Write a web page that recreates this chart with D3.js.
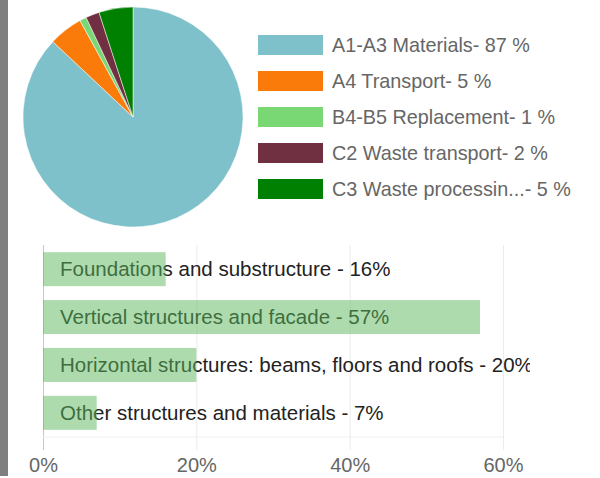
<!DOCTYPE html>
<html>
<head>
<meta charset="utf-8">
<script src="https://cdn.jsdelivr.net/npm/d3@7"></script>
<style>
  body { margin: 0; background: #fff; font-family: "Liberation Sans", Arial, sans-serif; }
  #strip { position: absolute; left: 0; top: 0; width: 8px; height: 476px; background: #7f7f7f; }
  svg { position: absolute; left: 0; top: 0; }
</style>
</head>
<body>
<div id="strip"></div>
<script>
const width = 600;
const height = 478;

// pie data
const pieLabels = ["A1-A3 Materials", "A4 Transport", "B4-B5 Replacement", "C2 Waste transport", "C3 Waste processin..."];
const pieValues = [87, 5, 1, 2, 5];
const pieColors = ["#7ec1ca", "#fb7b0a", "#79d873", "#712f42", "#008000"];

// bar data
const barLabels = ["Foundations and substructure", "Vertical structures and facade", "Horizontal structures: beams, floors and roofs", "Other structures and materials"];
const barValues = [16, 57, 20, 7];
const xTicks = [0, 20, 40, 60];

const svg = d3.select("body").append("svg")
  .attr("width", width)
  .attr("height", height);

// ---- pie ----
const pie = d3.pie().sort(null).value(d => d)(pieValues);
const arc = d3.arc().innerRadius(0).outerRadius(110);

svg.append("g")
  .attr("transform", "translate(133,117)")
  .selectAll("path")
  .data(pie)
  .enter()
  .append("path")
  .attr("d", arc)
  .attr("fill", (d, i) => pieColors[i])
  .attr("stroke", "#fff")
  .attr("stroke-width", 0.5);

// legend
const legend = svg.append("g").attr("transform", "translate(258,35)");
const rows = legend.selectAll("g")
  .data(pieLabels)
  .enter()
  .append("g")
  .attr("transform", (d, i) => `translate(0,${i * 36})`);

rows.append("rect")
  .attr("width", 65)
  .attr("height", 20)
  .attr("fill", (d, i) => pieColors[i]);

rows.append("text")
  .attr("x", 74)
  .attr("y", 10)
  .attr("dy", "0.35em")
  .attr("fill", "#666")
  .style("font-size", "19.8px")
  .text((d, i) => `${d}- ${pieValues[i]} %`);

// ---- bars ----
const xScale = d3.scaleLinear().domain([0, 60]).range([43, 503]);
const yScale = d3.scaleBand().domain(barLabels).range([245, 437]).paddingInner(0.29).paddingOuter(0.15);

const xAxis = d3.axisBottom(xScale)
  .tickValues(xTicks)
  .tickFormat(d => d + "%")
  .tickSize(-(450 - 245))
  .tickPadding(8);

const axisG = svg.append("g")
  .attr("transform", "translate(0,450)")
  .call(xAxis);
axisG.select(".domain").remove();
axisG.selectAll(".tick line").attr("stroke", (d) => d === 0 ? "#c8c8c8" : "#ececec");
axisG.selectAll(".tick text")
  .attr("fill", "#666")
  .style("font-size", "20px")
  .style("font-family", "'Liberation Sans', Arial, sans-serif");

svg.append("line")
  .attr("x1", xScale(0))
  .attr("x2", xScale(60))
  .attr("y1", 437)
  .attr("y2", 437)
  .attr("stroke", "#efefef");

// labels get cut at the chart's right edge
svg.append("clipPath")
  .attr("id", "label-clip")
  .append("rect")
  .attr("x", 0)
  .attr("y", 240)
  .attr("width", 530)
  .attr("height", 200);

// labels under the bars, bars semi transparent on top
svg.append("g")
  .attr("clip-path", "url(#label-clip)")
  .selectAll(".bar-label")
  .data(barLabels)
  .enter()
  .append("text")
  .attr("class", "bar-label")
  .attr("x", 60)
  .attr("y", d => yScale(d) + yScale.bandwidth() / 2)
  .attr("dy", "0.35em")
  .attr("fill", "#222")
  .style("font-size", "20.5px")
  .text((d, i) => `${d} - ${barValues[i]}%`);

svg.selectAll(".bar")
  .data(barValues)
  .enter()
  .append("rect")
  .attr("class", "bar")
  .attr("x", xScale(0))
  .attr("y", (d, i) => yScale(barLabels[i]))
  .attr("width", d => xScale(d) - xScale(0))
  .attr("height", yScale.bandwidth())
  .attr("fill", "#5cb85c")
  .attr("fill-opacity", 0.5);
</script>
</body>
</html>
